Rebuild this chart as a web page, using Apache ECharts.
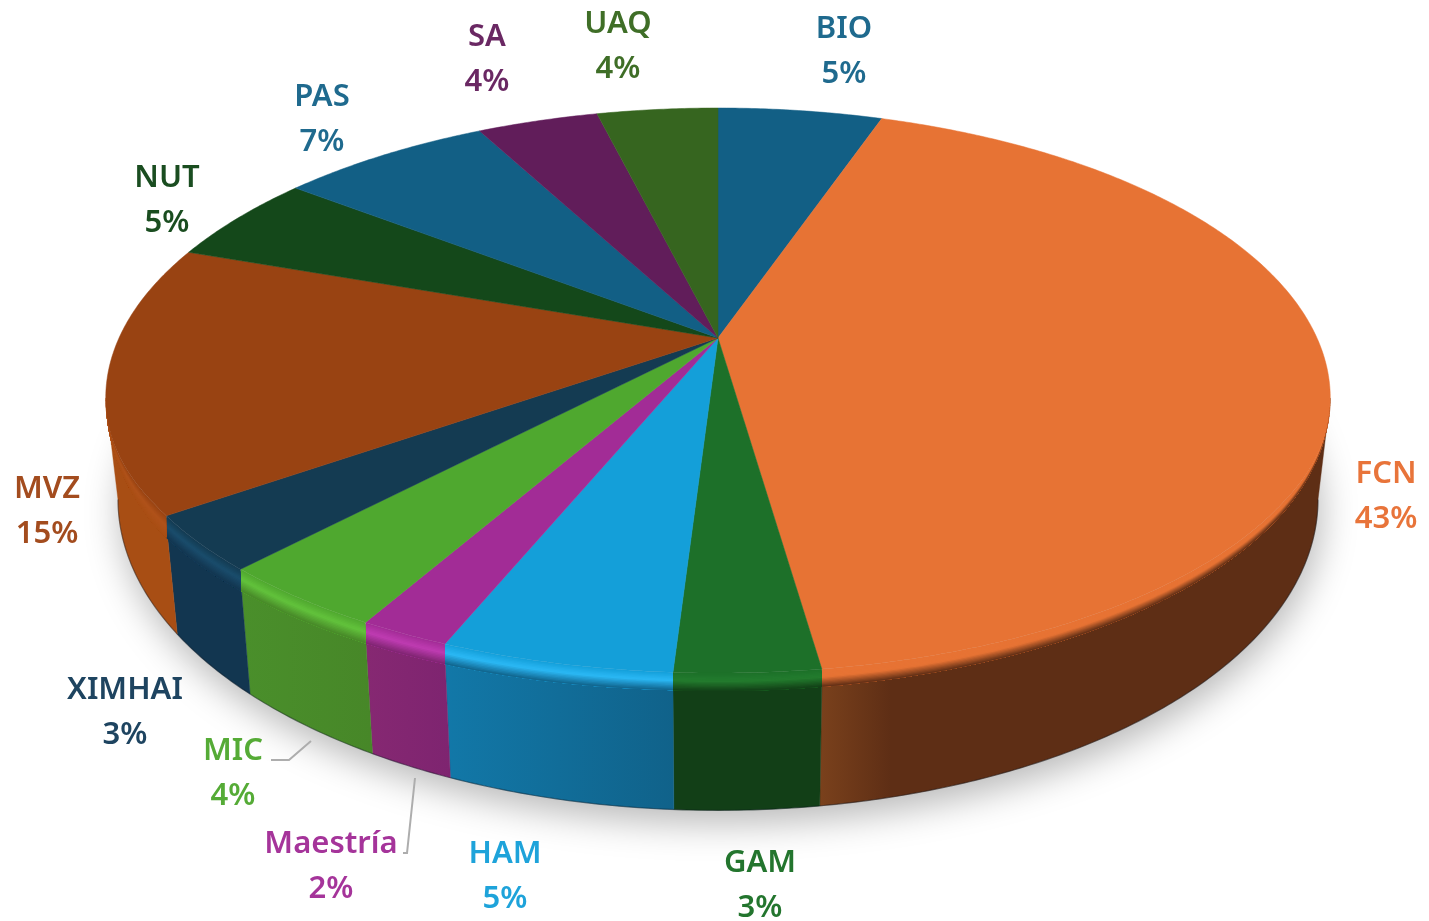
<!DOCTYPE html>
<html><head><meta charset="utf-8">
<style>html,body{margin:0;padding:0;background:#fff}#c{width:1429px;height:921px}</style>
<script src="https://cdn.jsdelivr.net/npm/echarts@6/dist/echarts.min.js"></script>
</head><body><div id="c"></div>
<script>
// ---- data ----
const categories = ['BIO','FCN','GAM','HAM','Maestría','MIC','XIMHAI','MVZ','NUT','PAS','SA','UAQ'];
const percentages = [5.3,42.5,3.15,5.05,2,3.8,3.2,15.35,5.05,6.8,3.9,3.9];

// ---- styles ----
const topColors  = ['#125f85','#e77334','#1d7029','#149fd9','#a22c96','#4fa82f','#143b52','#994312','#14481a','#125f85','#611d5a','#36651f'];
const rimColors  = ['#125f85','#e77334','#237c2e','#2bb8f5','#bf3cb2','#62c23c','#1a4d6c','#b0521a','#14481a','#125f85','#611d5a','#36651f'];
const wallStart  = ['#0e4a68','#7a411c','#123f17','#1278a8','#862872','#4a8f2b','#123650','#a84e14','#0f3312','#0e4a68','#4a1644','#2a4f18'];
const wallEnd    = ['#0e4a68','#5e2e15','#123f17','#10628a','#7e2470','#478728','#123650','#a84e14','#0f3312','#0e4a68','#4a1644','#2a4f18'];
const labelColors= ['#1f6a8e','#e8743a','#23752e','#1ea3da','#a5349a','#55ab36','#1e4460','#a34c1e','#1a4d20','#1f6a8e','#6a2863','#3f6e27'];
const labelCenters = [[844,29],[1386,474],[760,863],[505,854],[331,844],[233,751],[125,690],[47,489],[167,178],[322,97],[487,37],[618,24]];
const LINE_GAP = 45, FONT = '600 31px "Noto Sans"';

// ---- projection of the tilted disc ----
const CX = 718, CY = 338, PERSP = 0.207, BX = 599, BY = 277.6, DEPTH = 97, TAPER = 0.98;
const total = percentages.reduce((a,b)=>a+b,0);
const SIDE_R = Math.acos(-PERSP)*180/Math.PI, SIDE_L = 360-SIDE_R; // silhouette angles
function project(deg, r){
  const t = deg*Math.PI/180, u = r*Math.sin(t), v = -r*Math.cos(t), d = 1-PERSP*v;
  return [CX+BX*u/d, CY+BY*v/d];
}
function projectBottom(deg){
  const t = deg*Math.PI/180, v = -Math.cos(t), d = 1-PERSP*v, p = project(deg,1);
  return [CX+(p[0]-CX)*TAPER, p[1]+DEPTH/d];
}
function arcOf(a0,a1,fn){ const out=[], n=Math.max(2,Math.ceil((a1-a0)/0.5));
  for(let i=0;i<=n;i++) out.push(fn(a0+(a1-a0)*i/n)); return out; }
function sliceAngles(i){
  let s=0; for(let k=0;k<i;k++) s+=percentages[k];
  return [s/total*360,(s+percentages[i])/total*360];
}
function mix(a,b,t){
  const pa=parseInt(a.slice(1),16), pb=parseInt(b.slice(1),16);
  const ch=sh=>Math.round(((pa>>sh)&255)*(1-t)+((pb>>sh)&255)*t);
  return `rgb(${ch(16)},${ch(8)},${ch(0)})`;
}
const clamp01 = x=>Math.min(1,Math.max(0,x));
// bevel: straight down from the edge of the face to just below the rim
const BEVEL_IN = 0.043, BEVEL_OUT_R = 3, BEVEL_OUT_L = 14;
function bevelPoint(deg,f){
  const v=-Math.cos(deg*Math.PI/180), k=clamp01((v-0.2)/0.35);
  const rim=project(deg,1), outer=BEVEL_OUT_R+(BEVEL_OUT_L-BEVEL_OUT_R)*clamp01((deg-185)/50);
  const top=CY+(rim[1]-CY)*(1-BEVEL_IN*k), bottom=rim[1]+outer*k;
  return [rim[0], top+(bottom-top)*f];
}

const dataIdx = percentages.map((p,i)=>[i,p]);
const base = {type:'custom',coordinateSystem:'none',silent:true,animation:false,clip:false};

const option = {
  backgroundColor:'#fff',
  animation:false,
  graphic:[
    {type:'polyline',silent:true,z:20,shape:{points:[[271,760],[289,760],[311,741]]},style:{stroke:'#adadad',lineWidth:2,fill:null}},
    {type:'polyline',silent:true,z:20,shape:{points:[[403,853],[407,853],[415,778]]},style:{stroke:'#adadad',lineWidth:2,fill:null}}
  ],
  series:[
    // soft shadow beneath the disc
    Object.assign({},base,{z:1,data:[[0]],renderItem(){
      return {type:'polygon',shape:{points:arcOf(0,360,projectBottom)},
        style:{fill:'#ddd',shadowBlur:36,shadowOffsetY:13,shadowOffsetX:3,shadowColor:'rgba(0,0,0,0.28)'}};
    }}),
    // outer walls, only the visible part of each slice
    Object.assign({},base,{z:2,data:dataIdx,renderItem(params){
      const i=params.dataIndex; let [a0,a1]=sliceAngles(i);
      a0=Math.max(a0,SIDE_R); a1=Math.min(a1,SIDE_L);
      if(a1<=a0) return null;
      const pts=arcOf(a0,a1,a=>project(a,1)).concat(arcOf(a0,a1,projectBottom).reverse());
      const stops = i===1 ? [{offset:0,color:wallStart[i]},{offset:0.14,color:wallEnd[i]},{offset:1,color:wallEnd[i]}]
                          : [{offset:0,color:wallStart[i]},{offset:1,color:wallEnd[i]}];
      return {type:'polygon',shape:{points:pts},style:{
        fill:new echarts.graphic.LinearGradient(0,0,1,0,stops),stroke:wallEnd[i],lineWidth:0.4}};
    }}),
    // dark thin underside line
    Object.assign({},base,{z:3,data:[[0]],renderItem(){
      return {type:'polyline',shape:{points:arcOf(SIDE_R,SIDE_L,projectBottom)},style:{stroke:'rgba(10,20,30,0.4)',lineWidth:1.2,fill:null}};
    }}),
    // top face
    Object.assign({},base,{z:4,data:dataIdx,renderItem(params){
      const i=params.dataIndex,[a0,a1]=sliceAngles(i);
      const kids=[{type:'polygon',shape:{points:[[CX,CY]].concat(arcOf(a0,a1,a=>bevelPoint(a,0)))},
        style:{fill:topColors[i],stroke:topColors[i],lineWidth:0.5}}];
      // bevel: each band reaches the outer edge and is overpainted by the next, so no seams show
      const N=14;
      for(let b=0;b<N;b++){
        const t=(b+0.5)/N;
        const col = t<0.45 ? mix(topColors[i],rimColors[i],t/0.45)
                           : mix(rimColors[i],wallEnd[i],(t-0.45)/0.55);
        const pts=arcOf(a0,a1,a=>bevelPoint(a,b/N)).concat(arcOf(a0,a1,a=>bevelPoint(a,1)).reverse());
        kids.push({type:'polygon',shape:{points:pts},style:{fill:col}});
      }
      return {type:'group',children:kids};
    }}),
    // labels
    Object.assign({},base,{z:10,data:dataIdx,renderItem(params,api){
      const i=params.dataIndex,[x,y]=labelCenters[i];
      const common={textAlign:'center',textVerticalAlign:'middle',font:FONT,fill:labelColors[i]};
      return {type:'group',children:[
        {type:'text',x:x,y:y,style:Object.assign({text:categories[i]},common)},
        {type:'text',x:x,y:y+LINE_GAP,style:Object.assign({text:Math.round(api.value(1))+'%'},common)}
      ]};
    }})
  ]
};
const chart = echarts.init(document.getElementById('c'),null,{renderer:'canvas'});
chart.setOption(option);
</script></body></html>
